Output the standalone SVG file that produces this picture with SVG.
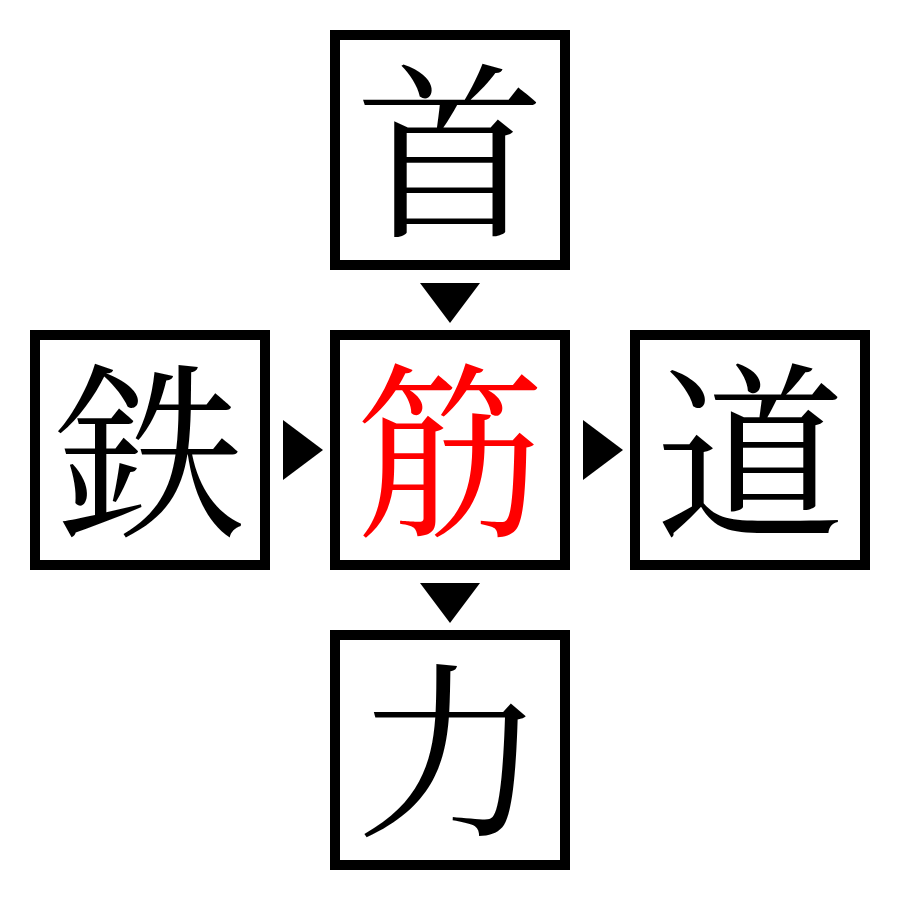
<svg xmlns="http://www.w3.org/2000/svg" width="900" height="900" viewBox="0 0 900 900">
<style>
.box{fill:#fff;stroke:#000;stroke-width:10}
.ch{font-family:"Noto Serif CJK JP","Noto Sans CJK JP",serif;font-size:189px;text-anchor:middle;dominant-baseline:central;fill:#000}
.hl{fill:#ff0000}
.arr{fill:#000}
</style>
<rect width="900" height="900" fill="#fff"/>
<g id="connectors">
<polygon class="arr" points="420,283 480,283 450,323"/>
<polygon class="arr" points="283,420 323,450 283,480"/>
<polygon class="arr" points="583,420 623,450 583,480"/>
<polygon class="arr" points="420,583 480,583 450,623"/>
</g>
<g id="node-top"><rect class="box" x="335" y="35" width="230" height="230"/><text class="ch" x="450" y="140">首</text></g>
<g id="node-left"><rect class="box" x="35" y="335" width="230" height="230"/><text class="ch" x="150" y="440">鉄</text></g>
<g id="node-center"><rect class="box" x="335" y="335" width="230" height="230"/><text class="ch hl" x="450" y="440">筋</text></g>
<g id="node-right"><rect class="box" x="635" y="335" width="230" height="230"/><text class="ch" x="750" y="440">道</text></g>
<g id="node-bottom"><rect class="box" x="335" y="635" width="230" height="230"/><text class="ch" x="450" y="740">力</text></g>
</svg>
